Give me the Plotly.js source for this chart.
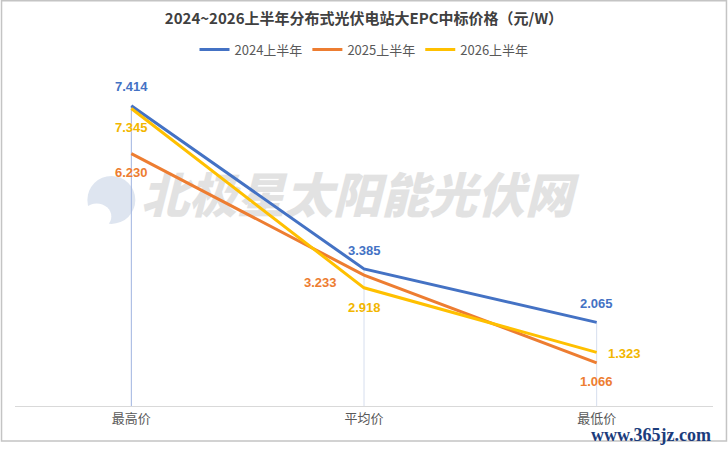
<!DOCTYPE html>
<html>
<head>
<meta charset="utf-8">
<script src="https://cdn.plot.ly/plotly-3.0.1.min.js"></script>
<style>html,body{margin:0;padding:0;background:#fff;}#chart{width:728px;height:451px;}</style>
</head>
<body>
<div id="chart"></div>
<script>
// ---- data ----
const categories = ['最高价', '平均价', '最低价'];
const seriesNames = ['2024上半年', '2025上半年', '2026上半年'];
const v2024 = [7.414, 3.385, 2.065];
const v2025 = [6.230, 3.233, 1.066];
const v2026 = [7.345, 2.918, 1.323];

// ---- styling ----
const colors = ['#4472C4', '#ED7D31', '#FFC000'];
const labelColors = ['#4472C4', '#ED7D31', '#F2B600'];
// label offsets (px) per series per category: [xshift, yshift]
const labelShift = [
  [[0, 19], [0, 18], [0, 19]],
  [[0, -19], [-44, -7], [0, -19]],
  [[0, -19], [0, -20], [28, -1]]
];
const allValues = [v2024, v2025, v2026];

const traces = allValues.map((vals, i) => ({
  type: 'scatter',
  mode: 'lines',
  x: categories,
  y: vals,
  name: seriesNames[i],
  line: {color: colors[i], width: 3},
  hoverinfo: 'skip'
}));

const annotations = [];
allValues.forEach((vals, i) => {
  vals.forEach((v, j) => {
    annotations.push({
      x: categories[j], y: v, xref: 'x', yref: 'y',
      text: v.toFixed(3), showarrow: false,
      xshift: labelShift[i][j][0], yshift: labelShift[i][j][1],
      font: {family: 'Liberation Sans, Arial, sans-serif', size: 13, color: labelColors[i], weight: 'bold'}
    });
  });
});
annotations.push({
  x: 1.0, y: -0.09, xref: 'paper', yref: 'paper', xanchor: 'right', yanchor: 'middle',
  text: '<b>www.365jz.com</b>', showarrow: false,
  font: {family: 'Liberation Serif, DejaVu Serif, serif', size: 18, color: '#1B3C7C'}
});

const shapes = [];
// drop lines from highest point to axis
categories.forEach((c, j) => {
  const top = Math.max(v2024[j], v2025[j], v2026[j]);
  shapes.push({type: 'line', xref: 'x', yref: 'y', x0: c, x1: c, y0: 0, y1: top,
    line: {color: j === 0 ? '#9FB4E0' : '#D6DEEE', width: 1}, layer: 'below'});
});
// watermark logo + text (below traces)
shapes.push({type: 'circle', xref: 'paper', yref: 'paper', x0: 0.1037, x1: 0.1724, y0: 0.562, y1: 0.71,
  fillcolor: '#DEE5F0', line: {width: 0}, layer: 'below'});
shapes.push({type: 'circle', xref: 'paper', yref: 'paper', x0: 0.096, x1: 0.138, y0: 0.545, y1: 0.625,
  fillcolor: '#FFFFFF', line: {width: 0}, layer: 'below'});
shapes.push({type: 'rect', xref: 'paper', yref: 'paper', x0: 0.17, x1: 0.81, y0: 0.555, y1: 0.715,
  fillcolor: 'rgba(0,0,0,0)', line: {width: 0}, layer: 'below',
  label: {text: '北极星太阳能光伏网', textposition: 'middle center',
    font: {family: 'Noto Sans CJK SC', size: 48, color: '#E2E2E2', weight: 900, style: 'italic'}}});
// outer border
shapes.push({type: 'rect', xref: 'paper', yref: 'paper', x0: -0.0193, x1: 1.0193, y0: -0.108, y1: 1.251,
  fillcolor: 'rgba(0,0,0,0)', line: {color: '#C4C4C4', width: 1.5}, layer: 'below'});

const layout = {
  width: 728, height: 451,
  margin: {l: 14.5, r: 14.5, t: 82, b: 45},
  paper_bgcolor: '#FFFFFF', plot_bgcolor: 'rgba(0,0,0,0)',
  title: {
    text: '2024~2026上半年分布式光伏电站大EPC中标价格（元/W）',
    x: 0.5, xanchor: 'center', y: 0.958, yanchor: 'middle',
    font: {family: 'Noto Sans CJK SC', size: 15, color: '#404040', weight: 'bold'}
  },
  showlegend: true,
  legend: {orientation: 'h', x: 0.5, xanchor: 'center', y: 1.1, yanchor: 'middle',
    font: {family: 'Noto Sans CJK SC, Roboto, sans-serif', size: 13, color: '#595959'},
    itemwidth: 30, tracegroupgap: 0},
  xaxis: {
    type: 'category', range: [-0.5, 2.5], showgrid: false, zeroline: false,
    showline: true, linecolor: '#D9D9D9', linewidth: 1, ticks: '',
    tickfont: {family: 'Noto Sans CJK SC', size: 13, color: '#595959'}, fixedrange: true
  },
  yaxis: {range: [0, 8], visible: false, showgrid: false, zeroline: false, fixedrange: true},
  annotations: annotations,
  shapes: shapes,
  font: {family: 'Noto Sans CJK SC'}
};

Plotly.newPlot('chart', traces, layout, {displayModeBar: false, staticPlot: true});
</script>
</body>
</html>
